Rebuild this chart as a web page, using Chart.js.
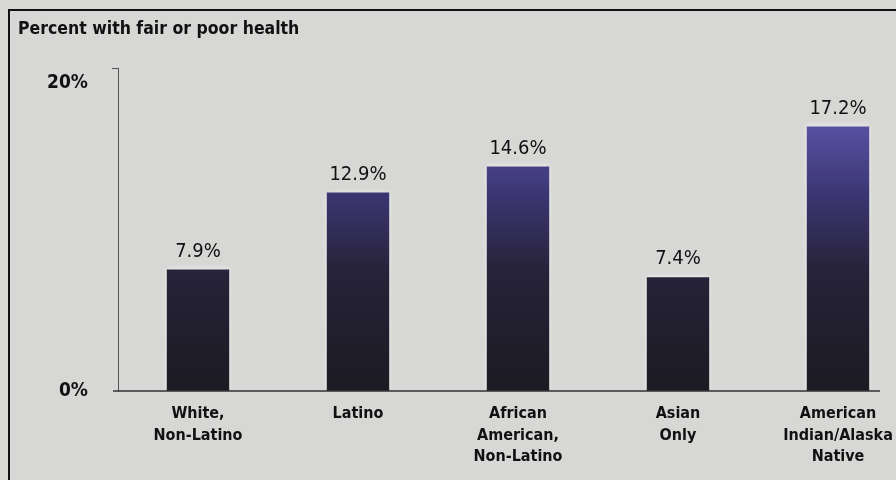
<!DOCTYPE html>
<html>
<head>
<meta charset="utf-8">
<script src="https://cdn.jsdelivr.net/npm/chart.js@4.4.1/dist/chart.umd.min.js"></script>
<style>
  body { margin: 0; background: #dcdcda; overflow: hidden; }
  #wrap { width: 920px; height: 480px; }
</style>
</head>
<body>
<div id="wrap"><canvas id="healthChart" width="920" height="480"></canvas></div>
<script>
// data
const groups = [
  ["White,", "Non-Latino"],
  ["Latino"],
  ["African", "American,", "Non-Latino"],
  ["Asian", "Only"],
  ["American", "Indian/Alaska", "Native"]
];
const fairPoorPct = [7.9, 12.9, 14.6, 7.4, 17.2];
const yTicks = [0, 20];
const chartTitle = "Percent with fair or poor health";

const FONT = '"Liberation Sans Narrow", "DejaVu Sans Condensed", "Roboto Condensed", sans-serif';

// gradient over whole chart area: dark at the bottom, blue-violet at top
function barFill(ctx) {
  const chart = ctx.chart;
  const area = chart.chartArea;
  if (!area) return "#2a2640";
  const g = chart.ctx.createLinearGradient(0, area.bottom, 0, area.top);
  g.addColorStop(0, "#1c1a22");
  g.addColorStop(0.38, "#27233a");
  g.addColorStop(0.6, "#3a3570");
  g.addColorStop(0.82, "#5751a2");
  g.addColorStop(1, "#5e59aa");
  return g;
}

// frame, title, axis hooks and value labels
const decor = {
  id: "decor",
  beforeDraw(chart) {
    const c = chart.ctx;
    c.save();
    c.fillStyle = "#d7d7d5";
    c.fillRect(0, 0, chart.width, chart.height);
    c.strokeStyle = "#111";
    c.lineWidth = 2;
    c.strokeRect(9, 10, chart.width + 20, chart.height + 20);
    c.fillStyle = "#111";
    c.font = "bold 17.5px " + FONT;
    c.textBaseline = "middle";
    c.textAlign = "left";
    c.fillText(chartTitle, 18, 29);
    c.restore();
  },
  beforeDatasetsDraw(chart) {
    chart.ctx.save();
    chart.ctx.shadowColor = "rgba(255,255,255,0.8)";
    chart.ctx.shadowBlur = 5;
  },
  afterDatasetsDraw(chart) {
    chart.ctx.restore();
    const c = chart.ctx;
    const area = chart.chartArea;
    c.save();
    // x axis line
    c.strokeStyle = "#333";
    c.lineWidth = 1.5;
    c.beginPath();
    c.moveTo(area.left - 5, area.bottom);
    c.lineTo(area.right - 38, area.bottom);
    c.stroke();
    // hook at the top of the y axis
    c.strokeStyle = "#555";
    c.lineWidth = 1;
    c.beginPath();
    c.moveTo(area.left - 6, area.top + 0.5);
    c.lineTo(area.left, area.top + 0.5);
    c.stroke();
    // value labels
    const meta = chart.getDatasetMeta(0);
    c.fillStyle = "#111";
    c.font = "20px " + FONT;
    c.textAlign = "center";
    c.textBaseline = "bottom";
    meta.data.forEach((bar, i) => {
      c.fillText(fairPoorPct[i].toFixed(1) + "%", bar.x, bar.y - 8);
    });
    c.restore();
  }
};

new Chart(document.getElementById("healthChart"), {
  type: "bar",
  data: {
    labels: groups,
    datasets: [{
      data: fairPoorPct,
      backgroundColor: barFill,
      borderWidth: 0,
      categoryPercentage: 1,
      barPercentage: 0.39
    }]
  },
  options: {
    responsive: false,
    animation: false,
    layout: { padding: { top: 68, right: 2, left: 0, bottom: 0 } },
    plugins: {
      legend: { display: false },
      tooltip: { enabled: false }
    },
    scales: {
      x: {
        grid: { display: false, drawTicks: false },
        border: { display: false },
        ticks: {
          color: "#111",
          font: { family: FONT, size: 16, weight: "bold", lineHeight: 1.35 },
          padding: 12,
          maxRotation: 0,
          autoSkip: false
        },
        afterFit(scale) { scale.height = 89; }
      },
      y: {
        min: 0,
        max: 21,
        grid: { display: false, drawTicks: false },
        border: { display: true, color: "#555", width: 1 },
        afterBuildTicks(scale) { scale.ticks = yTicks.map(v => ({ value: v })); },
        ticks: {
          color: "#111",
          font: { family: FONT, size: 19, weight: "bold" },
          padding: 30,
          callback: v => v + "%"
        },
        afterFit(scale) { scale.width = 118; }
      }
    }
  },
  plugins: [decor]
});
</script>
</body>
</html>
